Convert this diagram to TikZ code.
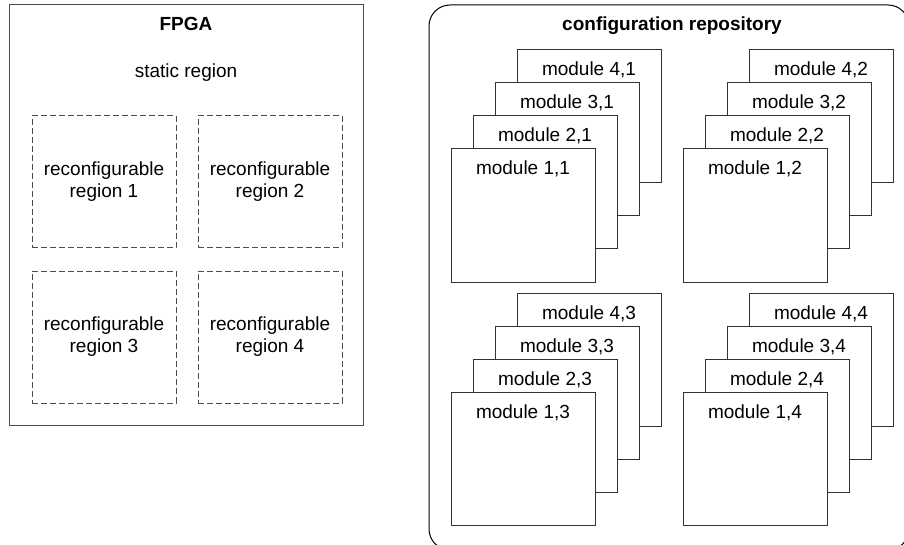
\documentclass[tikz,border=0pt]{standalone}
\usepackage{fontspec}
\setmainfont{Liberation Sans}
\begin{document}
\begin{tikzpicture}[x=1pt,y=-1pt,
  every node/.style={font=\fontsize{19}{22}\selectfont, inner sep=0pt, outer sep=0pt},
  outerbox/.style={draw=black!70, line width=1pt, anchor=north west},
  repobox/.style={draw=black, line width=1pt, rounded corners=21pt, anchor=north west},
  regbox/.style={draw=black!70, dash pattern=on 6pt off 3pt, line width=1pt,
    minimum width=144pt, minimum height=132pt, anchor=north west},
  regtext/.style={align=center},
  mbox/.style={draw=black!80, line width=1pt, fill=white,
    minimum width=144pt, minimum height=133pt, anchor=north west},
  mtext/.style={anchor=base},
  title/.style={font=\fontsize{19}{22}\selectfont\bfseries, anchor=base}]
\clip (0,0) rectangle (904,545);
\useasboundingbox (0,0) rectangle (904,545);

% FPGA
\node[outerbox, minimum width=353.5pt, minimum height=420pt] (fpga) at (9.5,5) {};
\node[title] (fpgat) at (186,31) {FPGA};
\node[anchor=base] (stat) at (186,78) {static region};

\node[regbox] (r1) at (32,116) {};
\node[regbox] (r2) at (198,116) {};
\node[regbox] (r3) at (32,271) {};
\node[regbox] (r4) at (198,271) {};
\node[regtext] (r1t) at (r1.center) {reconfigurable\\region 1};
\node[regtext] (r2t) at (r2.center) {reconfigurable\\region 2};
\node[regtext] (r3t) at (r3.center) {reconfigurable\\region 3};
\node[regtext] (r4t) at (r4.center) {reconfigurable\\region 4};

% configuration repository
\node[repobox, minimum width=480pt, minimum height=545pt] (repo) at (429,5) {};
\node[title] (repot) at (672,31) {configuration repository};

\foreach \g/\gx/\gy in {1/0/0,2/232/0,3/0/243,4/232/243}{
  \foreach \k in {4,3,2,1}{
    \node[mbox] (m\k\g) at ({451+22*(\k-1)+\gx},{149-33*(\k-1)+\gy}) {};
    \node[mtext] (t\k\g) at ({523+22*(\k-1)+\gx},{175-33*(\k-1)+\gy}) {module \k,\g};
  }
}
\end{tikzpicture}
\end{document}
